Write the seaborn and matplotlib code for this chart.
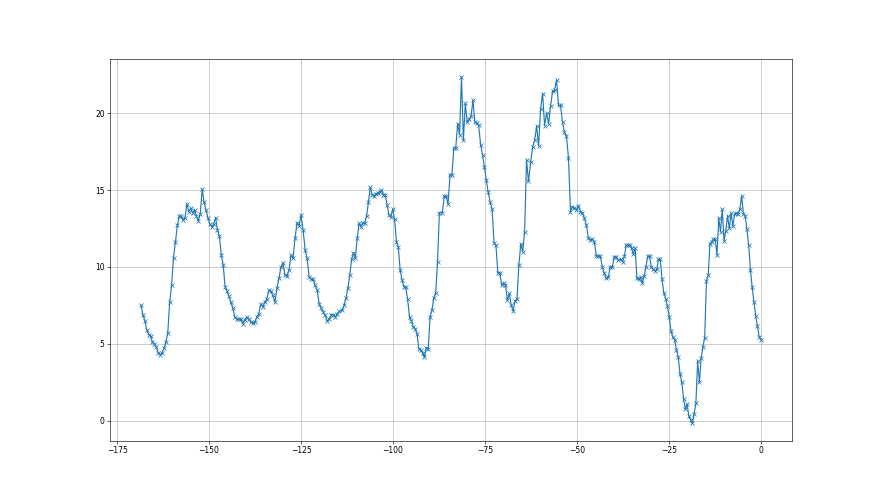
import numpy as np
import pandas as pd
import matplotlib
matplotlib.use("Agg")
import matplotlib.pyplot as plt
import seaborn as sns

seg_a = [7.5, 6.9, 6.5, 5.9, 5.6, 5.5, 5.1, 5.0, 4.8, 4.4, 4.3, 4.4, 4.7, 5.1, 5.7, 7.7, 8.8, 10.6,
         11.6, 12.7, 13.3, 13.3, 13.05, 13.2, 14.1, 13.6, 13.8, 13.5, 13.7, 13.3, 13.0, 13.45, 15.05,
         14.2, 13.7, 13.2, 12.8, 12.6, 12.8, 13.2, 12.4, 12.0, 10.8, 10.1, 8.7, 8.4, 8.1, 7.7, 7.35,
         6.75, 6.6, 6.6]
seg_b = [6.6, 6.3, 6.56, 6.74, 6.6, 6.4, 6.36, 6.4, 6.74, 6.96, 7.6, 7.4, 7.7, 7.93, 8.5, 8.4, 8.15,
         7.7, 8.6, 9.25, 9.99, 10.27, 9.46, 9.4, 9.8, 10.77, 10.55, 11.86, 12.88, 12.66, 13.38, 12.4,
         11.1, 10.55, 9.35, 9.2, 9.18, 8.8, 8.5, 7.6, 7.3, 7.07, 6.85, 6.46, 6.6, 6.9, 6.9, 6.74,
         6.96, 7.1]
seg_c = [7.2, 7.5, 7.98, 8.6, 9.46, 10.49, 10.92, 10.55, 11.86, 12.84, 12.62, 12.88, 12.84, 13.3,
         14.19, 15.19, 14.7, 14.6, 14.75, 14.8, 14.9, 14.97, 14.7, 14.7, 14.03, 13.38, 13.23, 13.75,
         13.1, 11.64, 11.27, 9.79, 9.14, 8.71, 8.66, 7.88, 6.74, 6.48, 6.1, 5.99, 5.66, 4.68, 4.57,
         4.4, 4.13, 4.74, 4.68, 6.74, 7.18, 7.98, 8.31, 10.33, 13.53]
seg_d = [13.53, 14.62, 14.58, 14.1, 15.99, 15.99, 17.73, 17.73, 19.32, 18.6, 22.37, 18.27, 20.63,
         19.4, 19.6, 19.8, 20.84, 19.4, 19.36, 19.2, 17.95, 17.3, 16.49, 15.62, 14.84, 14.19, 13.75,
         11.57, 11.42, 9.62, 9.62, 8.81, 8.96, 8.81, 7.83, 8.27, 7.51, 7.14, 7.79, 7.88, 10.12,
         11.49, 10.99, 12.29, 16.97, 15.56]
seg_e = [16.8, 17.8, 18.23, 19.15, 17.88, 20.28, 21.26, 19.19, 19.98, 19.32, 20.45, 21.43, 21.5,
         22.15, 20.5, 20.5, 19.41, 18.75, 18.49, 17.08, 13.6, 13.92, 13.82, 13.71, 13.97, 13.6,
         13.53, 13.16, 12.73, 11.86, 11.77, 11.8, 11.64, 10.7, 10.7, 10.7, 9.97, 9.58, 9.25, 9.32,
         10.0, 9.97, 10.66, 10.66, 10.44]
seg_f = [10.49, 10.33, 10.7, 11.42, 11.42, 11.42, 11.21, 10.84, 11.21, 9.25, 9.18, 9.31, 8.96, 9.4,
         10.0, 10.7, 10.7, 10.0, 9.83, 9.75, 9.83, 10.49, 10.49, 9.18, 8.31, 7.94, 7.44, 6.74, 5.83,
         5.44, 5.26, 4.61, 4.13]
seg_g = [3.05, 2.5, 1.41, 0.75, 1.07, 0.31, 0.04, -0.17, 0.44, 1.13, 3.87, 2.5, 4.09, 4.79, 5.4,
         9.09, 9.46, 11.49, 11.64, 11.8, 11.8, 10.77, 13.16, 12.29, 13.75, 11.7, 12.36, 13.31,
         12.51, 13.49, 12.66, 13.42, 13.49, 13.45, 13.75, 14.62, 13.45, 13.31, 12.44, 11.42, 9.79,
         8.66, 7.72, 6.78, 6.15, 5.44, 5.27]

# x range (first, last) of each segment
seg_x_start = [-168.5, -141.4, -113.8, -86.6, -62.6, -38.1, -22.0]
seg_x_end = [-142.0, -114.6, -87.4, -63.2, -38.8, -22.5, 0.0]

segments = [seg_a, seg_b, seg_c, seg_d, seg_e, seg_f, seg_g]
xs = np.concatenate([np.linspace(s, e, len(v))
                     for s, e, v in zip(seg_x_start, seg_x_end, segments)])
values = np.concatenate(segments)
df = pd.DataFrame({"x": xs, "y": values})

fig, ax = plt.subplots(figsize=(16, 9), dpi=55)
color = "#1f77b4"
sns.lineplot(data=df, x="x", y="y", ax=ax, sort=False, estimator=None, color=color,
             marker="x", markersize=6, markeredgecolor=color, markeredgewidth=1.0,
             linewidth=1.5)
ax.grid(True, color="#b0b0b0", linewidth=0.8)
ax.set_axisbelow(True)
ax.set_xlabel("")
ax.set_ylabel("")
ax.set_yticks([0, 5, 10, 15, 20])
ax.set_xticks([-175, -150, -125, -100, -75, -50, -25, 0])
fig.savefig("out.png", dpi=55)
